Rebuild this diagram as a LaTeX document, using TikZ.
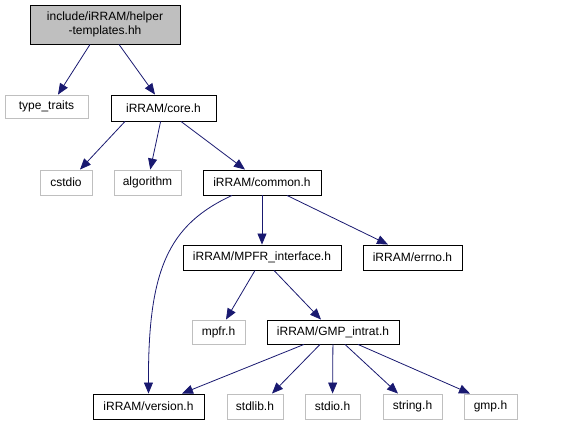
\documentclass[tikz,border=0pt]{standalone}
\usepackage{fontspec}
\setmainfont{Liberation Sans}
\usetikzlibrary{arrows.meta}
\definecolor{edgeblue}{HTML}{191970}
\definecolor{graybd}{HTML}{BFBFBF}
\begin{document}
\begin{tikzpicture}[x=1pt,y=-1pt,
  box/.style={draw=black,line width=0.9pt,fill=white,minimum height=25pt,inner sep=0pt,font=\fontsize{12}{13}\selectfont},
  gbox/.style={box,draw=graybd},
  edge/.style={draw=edgeblue,line width=0.8pt,-{Triangle[length=11pt,width=9pt]}}]
\useasboundingbox (0,0) rectangle (579,425);
\node[box,fill=graybd,minimum width=150pt,minimum height=39pt,align=center,font=\fontsize{12}{14.5}\selectfont] (top) at (105,24.5) {include/iRRAM/helper\\-templates.hh};
\node[gbox,minimum width=83pt,minimum height=23pt] (tt) at (46.5,106.5) {type\_traits};
\node[box,minimum width=105pt,minimum height=26pt] (core) at (163.5,108) {iRRAM/core.h};
\node[gbox,minimum width=52pt] (cstdio) at (66,182.5) {cstdio};
\node[gbox,minimum width=67pt] (alg) at (147.5,182.5) {algorithm};
\node[box,minimum width=118pt] (common) at (262,182.5) {iRRAM/common.h};
\node[box,minimum width=158pt] (mpfrif) at (262,257.5) {iRRAM/MPFR\_interface.h};
\node[box,minimum width=99pt] (errno) at (412.5,257.5) {iRRAM/errno.h};
\node[gbox,minimum width=53pt,minimum height=24pt] (mpfr) at (218.5,332) {mpfr.h};
\node[box,minimum width=132pt,minimum height=24pt] (gmpi) at (333,332) {iRRAM/GMP\_intrat.h};
\node[box,minimum width=111pt] (version) at (148.5,406.5) {iRRAM/version.h};
\node[gbox,minimum width=56pt] (stdlib) at (255,406.5) {stdlib.h};
\node[gbox,minimum width=55pt] (stdio) at (332.5,406.5) {stdio.h};
\node[gbox,minimum width=59pt] (string) at (412.5,406.5) {string.h};
\node[gbox,minimum width=53pt] (gmp) at (490.5,406.5) {gmp.h};
\draw[edge] (top.south -| 90,0) -- (tt.north -| 58,0);
\draw[edge] (top.south -| 119,0) -- (core.north -| 155,0);
\draw[edge] (core.south -| 125,0) -- (cstdio.north -| 80,0);
\draw[edge] (core) -- (alg);
\draw[edge] (core.south -| 181,0) -- (common.north -| 245,0);
\draw[edge] (common.south -| 232,0) .. controls (168,225) and (148,270) .. (version.north);
\draw[edge] (common) -- (mpfrif);
\draw[edge] (common.south -| 287,0) -- (errno.north -| 388,0);
\draw[edge] (mpfrif.south -| 255,0) -- (mpfr.north -| 226,0);
\draw[edge] (mpfrif.south -| 274,0) -- (gmpi.north -| 321,0);
\draw[edge] (gmpi.south -| 304,0) -- (version.north -| 182,0);
\draw[edge] (gmpi.south -| 320,0) -- (stdlib.north -| 272,0);
\draw[edge] (gmpi) -- (stdio);
\draw[edge] (gmpi.south -| 345,0) -- (string.north -| 398,0);
\draw[edge] (gmpi.south -| 358,0) -- (gmp.north -| 470,0);
\end{tikzpicture}
\end{document}
